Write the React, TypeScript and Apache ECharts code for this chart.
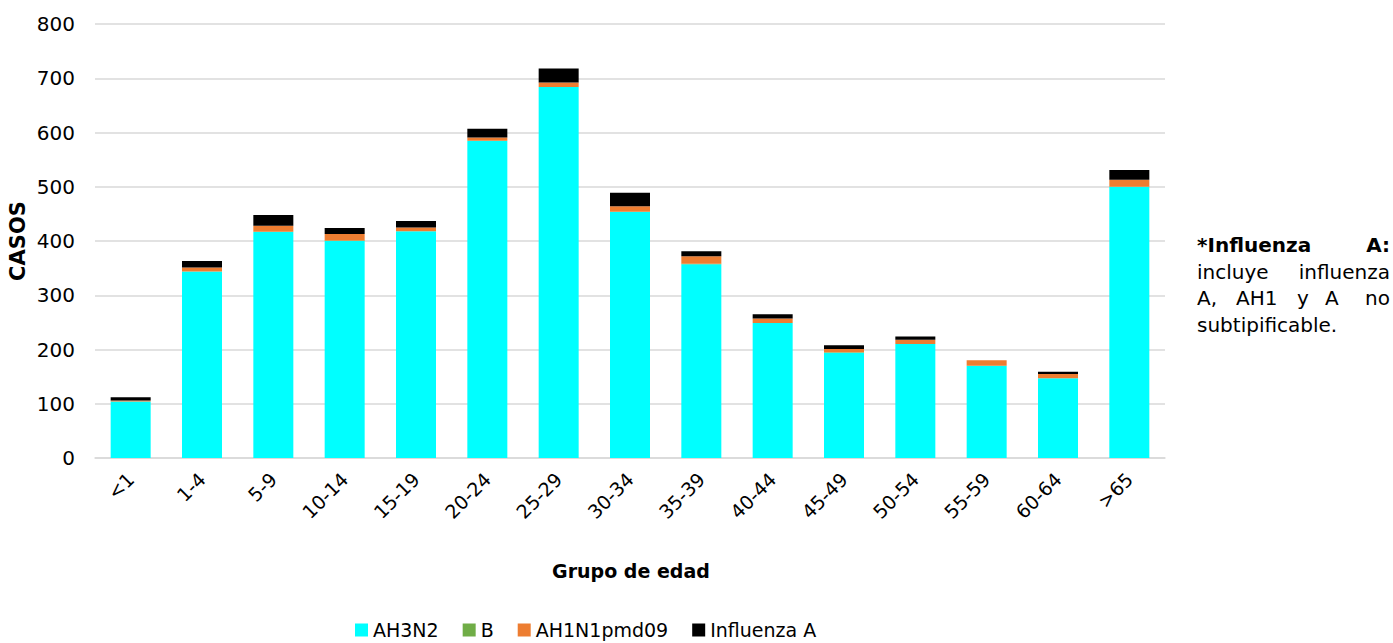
import React, { useEffect, useRef } from "react";
import * as echarts from "echarts";

const categories = ["<1", "1-4", "5-9", "10-14", "15-19", "20-24", "25-29", "30-34", "35-39", "40-44", "45-49", "50-54", "55-59", "60-64", ">65"];
const ah3n2 = [104, 344, 417, 400, 418, 585, 684, 454, 357, 249, 194, 210, 170, 147, 500];
const bValues = [0, 0, 0, 1, 0, 0, 0, 0, 1, 0, 1, 0, 0, 0, 0];
const ah1n1 = [2, 7, 11, 12, 7, 6, 8, 10, 14, 8, 6, 8, 10, 8, 13];
const influenzaA = [6, 12, 20, 11, 12, 16, 26, 25, 9, 8, 7, 6, 0, 4, 18];
const yTicks = { min: 0, max: 800, interval: 100 };

const FONT = "'DejaVu Sans', 'Noto Sans', sans-serif";

export default function App() {
  const ref = useRef<HTMLDivElement>(null);
  useEffect(() => {
    document.body.style.margin = "0";
    const chart = echarts.init(ref.current!, null, { renderer: "svg" });
    const noteStyle = { fontFamily: FONT, fontSize: 20, fill: "#000" };
    const noteY = [245, 272, 298, 325];
    const series = [
      { name: "AH3N2", data: ah3n2, color: "#00FFFF" },
      { name: "B", data: bValues, color: "#70AD47" },
      { name: "AH1N1pmd09", data: ah1n1, color: "#ED7D31" },
      { name: "Influenza A", data: influenzaA, color: "#000000" },
    ].map((s) => ({
      name: s.name,
      type: "bar",
      stack: "total",
      data: s.data,
      barWidth: 40,
      itemStyle: { color: s.color },
    }));
    chart.setOption({
      animation: false,
      textStyle: { fontFamily: FONT },
      grid: { left: 95, right: 228, top: 24, bottom: 185 },
      legend: {
        top: 620,
        left: 355,
        padding: 0,
        itemWidth: 13,
        itemHeight: 13,
        itemGap: 24,
        icon: "rect",
        textStyle: { fontSize: 19, lineHeight: 20, color: "#000", fontFamily: FONT },
        data: ["AH3N2", "B", "AH1N1pmd09", "Influenza A"],
      },
      xAxis: {
        type: "category",
        data: categories,
        axisTick: { show: false },
        axisLine: { lineStyle: { color: "#d9d9d9", width: 1.5 } },
        axisLabel: { rotate: 45, fontSize: 19, color: "#000", margin: 18, fontFamily: FONT },
      },
      yAxis: {
        type: "value",
        min: yTicks.min,
        max: yTicks.max,
        interval: yTicks.interval,
        axisLabel: { fontSize: 20, color: "#000", margin: 20, fontFamily: FONT },
        splitLine: { lineStyle: { color: "#d9d9d9", width: 1.5 } },
      },
      series,
      graphic: [
        {
          type: "text",
          x: 18,
          y: 241,
          rotation: Math.PI / 2,
          style: { text: "CASOS", font: `bold 21px ${FONT}`, fill: "#000", align: "center", verticalAlign: "middle" },
        },
        {
          type: "text",
          x: 631,
          y: 571,
          style: { text: "Grupo de edad", font: `bold 19px ${FONT}`, fill: "#000", align: "center", verticalAlign: "middle" },
        },
        { type: "text", x: 1197, y: noteY[0], style: { ...noteStyle, text: "*Influenza", fontWeight: "bold", verticalAlign: "middle", align: "left" } },
        { type: "text", x: 1390, y: noteY[0], style: { ...noteStyle, text: "A:", fontWeight: "bold", verticalAlign: "middle", align: "right" } },
        { type: "text", x: 1197, y: noteY[1], style: { ...noteStyle, text: "incluye", verticalAlign: "middle", align: "left" } },
        { type: "text", x: 1390, y: noteY[1], style: { ...noteStyle, text: "influenza", verticalAlign: "middle", align: "right" } },
        { type: "text", x: 1197, y: noteY[2], style: { ...noteStyle, text: "A,", verticalAlign: "middle", align: "left" } },
        { type: "text", x: 1236, y: noteY[2], style: { ...noteStyle, text: "AH1", verticalAlign: "middle", align: "left" } },
        { type: "text", x: 1297, y: noteY[2], style: { ...noteStyle, text: "y", verticalAlign: "middle", align: "left" } },
        { type: "text", x: 1325, y: noteY[2], style: { ...noteStyle, text: "A", verticalAlign: "middle", align: "left" } },
        { type: "text", x: 1390, y: noteY[2], style: { ...noteStyle, text: "no", verticalAlign: "middle", align: "right" } },
        { type: "text", x: 1197, y: noteY[3], style: { ...noteStyle, text: "subtipificable.", verticalAlign: "middle", align: "left" } },
      ],
    });
    return () => chart.dispose();
  }, []);
  return <div ref={ref} style={{ width: 1393, height: 643 }} />;
}
